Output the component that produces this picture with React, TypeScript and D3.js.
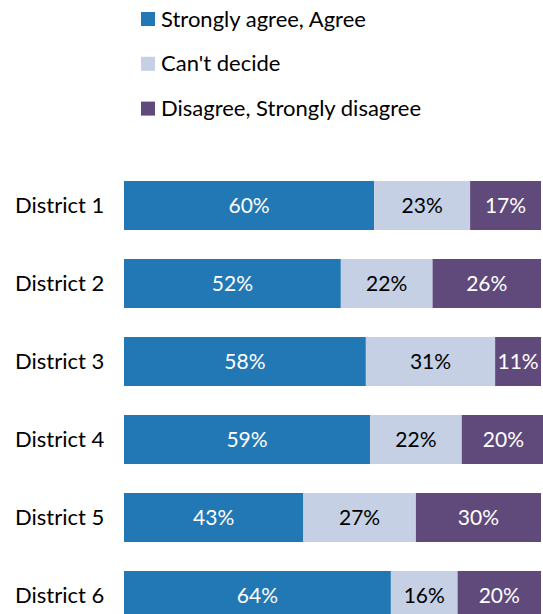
import React from "react";
import * as d3 from "d3";

const categories = ["District 1", "District 2", "District 3", "District 4", "District 5", "District 6"];
const agree = [60, 52, 58, 59, 43, 64];
const cantDecide = [23, 22, 31, 22, 27, 16];
const disagree = [17, 26, 11, 20, 30, 20];
const seriesNames = ["Strongly agree, Agree", "Can't decide", "Disagree, Strongly disagree"];
const colors = ["#2278B5", "#C5D0E4", "#604A7B"];
const textColors = ["#ffffff", "#000000", "#ffffff"];

export default function App() {
  const width = 543;
  const height = 614;
  const font = "Lato, 'Open Sans', sans-serif";
  const rows = categories.map((c, i) => ({ cat: c, v: [agree[i], cantDecide[i], disagree[i]] }));
  const x = d3.scaleLinear().domain([0, 100]).range([124, 541]);
  const step = 78;
  const bh = 49;
  const y = d3
    .scaleOrdinal<string, number>()
    .domain(categories)
    .range(categories.map((_, i) => 181 + i * step));
  return (
    <svg width={width} height={height} style={{ position: "absolute", left: 0, top: 0 }}>
      <rect width={width} height={height} fill="#fff" />
      {seriesNames.map((s, k) => (
        <g key={s}>
          <rect x={141} y={12 + k * 44.8} width={14} height={14} fill={colors[k]} />
          <text x={161} y={26.5 + k * 44.8} fontFamily={font} fontSize={22} fill="#000">
            {s}
          </text>
        </g>
      ))}
      {rows.map((r) => {
        let acc = 0;
        const segs = r.v.map((v, k) => {
          const x0 = acc;
          acc += v;
          return { k, v, x0, x1: acc };
        });
        const top = y(r.cat);
        return (
          <g key={r.cat}>
            <text x={15} y={top + bh / 2} dy="0.35em" fontFamily={font} fontSize={22} fill="#000">
              {r.cat}
            </text>
            {segs.map((s) => (
              <rect key={"r" + s.k} x={x(s.x0)} y={top} width={x(s.x1) - x(s.x0)} height={bh} fill={colors[s.k]} />
            ))}
            {segs.map((s) => (
              <text
                key={"t" + s.k}
                x={(x(s.x0) + x(s.x1)) / 2}
                y={top + bh / 2}
                dy="0.35em"
                textAnchor="middle"
                fontFamily={font}
                fontSize={21}
                fill={textColors[s.k]}
              >
                {s.v}%
              </text>
            ))}
          </g>
        );
      })}
    </svg>
  );
}
